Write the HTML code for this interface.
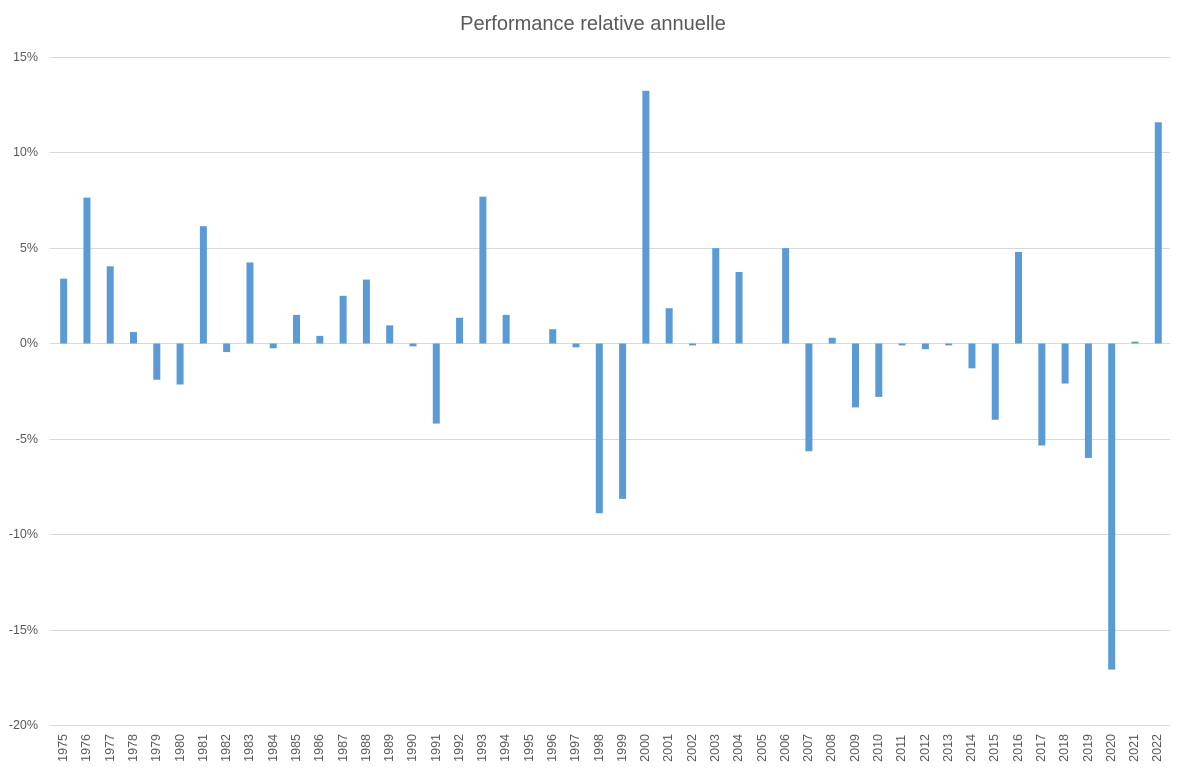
<!DOCTYPE html>
<html><head><meta charset="utf-8"><style>
html,body{margin:0;padding:0;background:#fff;}
body{width:1186px;height:775px;position:relative;overflow:hidden;font-family:"Liberation Sans",sans-serif;color:#595959;}
.title{position:absolute;left:0;width:1186px;top:13px;text-align:center;font-size:20px;}
.yl{position:absolute;right:1148px;font-size:12.5px;text-align:right;white-space:nowrap;}
.xl{position:absolute;left:52px;top:734px;width:1118px;display:flex;}
.xl div{width:23.29px;display:flex;justify-content:center;}
.xl span{writing-mode:vertical-rl;transform:rotate(180deg);font-size:12.5px;line-height:13px;}
svg{position:absolute;left:0;top:0;}
</style></head><body>
<div class="title">Performance relative annuelle</div>
<svg width="1186" height="775">
<g stroke="#d9d9d9" stroke-width="1">
<line x1="50" x2="1170" y1="57.5" y2="57.5"/>
<line x1="50" x2="1170" y1="152.5" y2="152.5"/>
<line x1="50" x2="1170" y1="248.5" y2="248.5"/>
<line x1="50" x2="1170" y1="343.5" y2="343.5"/>
<line x1="50" x2="1170" y1="439.5" y2="439.5"/>
<line x1="50" x2="1170" y1="534.5" y2="534.5"/>
<line x1="50" x2="1170" y1="630.5" y2="630.5"/>
<line x1="50" x2="1170" y1="725.5" y2="725.5"/>
</g>
<g id="bars" fill="#5b9bd5"></g>
</svg>
<div class="yl" style="top:50px">15%</div>
<div class="yl" style="top:145px">10%</div>
<div class="yl" style="top:241px">5%</div>
<div class="yl" style="top:336px">0%</div>
<div class="yl" style="top:432px">-5%</div>
<div class="yl" style="top:527px">-10%</div>
<div class="yl" style="top:623px">-15%</div>
<div class="yl" style="top:718px">-20%</div>
<div class="xl">
<div><span>1975</span></div><div><span>1976</span></div><div><span>1977</span></div><div><span>1978</span></div><div><span>1979</span></div><div><span>1980</span></div><div><span>1981</span></div><div><span>1982</span></div><div><span>1983</span></div><div><span>1984</span></div><div><span>1985</span></div><div><span>1986</span></div><div><span>1987</span></div><div><span>1988</span></div><div><span>1989</span></div><div><span>1990</span></div><div><span>1991</span></div><div><span>1992</span></div><div><span>1993</span></div><div><span>1994</span></div><div><span>1995</span></div><div><span>1996</span></div><div><span>1997</span></div><div><span>1998</span></div><div><span>1999</span></div><div><span>2000</span></div><div><span>2001</span></div><div><span>2002</span></div><div><span>2003</span></div><div><span>2004</span></div><div><span>2005</span></div><div><span>2006</span></div><div><span>2007</span></div><div><span>2008</span></div><div><span>2009</span></div><div><span>2010</span></div><div><span>2011</span></div><div><span>2012</span></div><div><span>2013</span></div><div><span>2014</span></div><div><span>2015</span></div><div><span>2016</span></div><div><span>2017</span></div><div><span>2018</span></div><div><span>2019</span></div><div><span>2020</span></div><div><span>2021</span></div><div><span>2022</span></div>
</div>
<script>
var v=[3.4,7.65,4.05,0.6,-1.9,-2.15,6.15,-0.45,4.25,-0.25,1.5,0.4,2.5,3.35,0.95,-0.15,-4.2,1.35,7.7,1.5,0,0.75,-0.2,-8.9,-8.15,13.25,1.85,-0.1,5.0,3.75,0,5.0,-5.65,0.3,-3.35,-2.8,-0.1,-0.3,-0.1,-1.3,-4.0,4.8,-5.35,-2.1,-6.0,-17.1,0.1,11.6];
var g=document.getElementById('bars'),s='';
for(var i=0;i<v.length;i++){
 var cx=52+23.29*(i+0.5),h=Math.abs(v[i])*19.07,y=v[i]>=0?343.5-h:343.5;
 if(h>0)s+='<rect x="'+(cx-3.5).toFixed(2)+'" y="'+y.toFixed(2)+'" width="7" height="'+h.toFixed(2)+'"/>';
}
g.innerHTML=s;
</script>
</body></html>
